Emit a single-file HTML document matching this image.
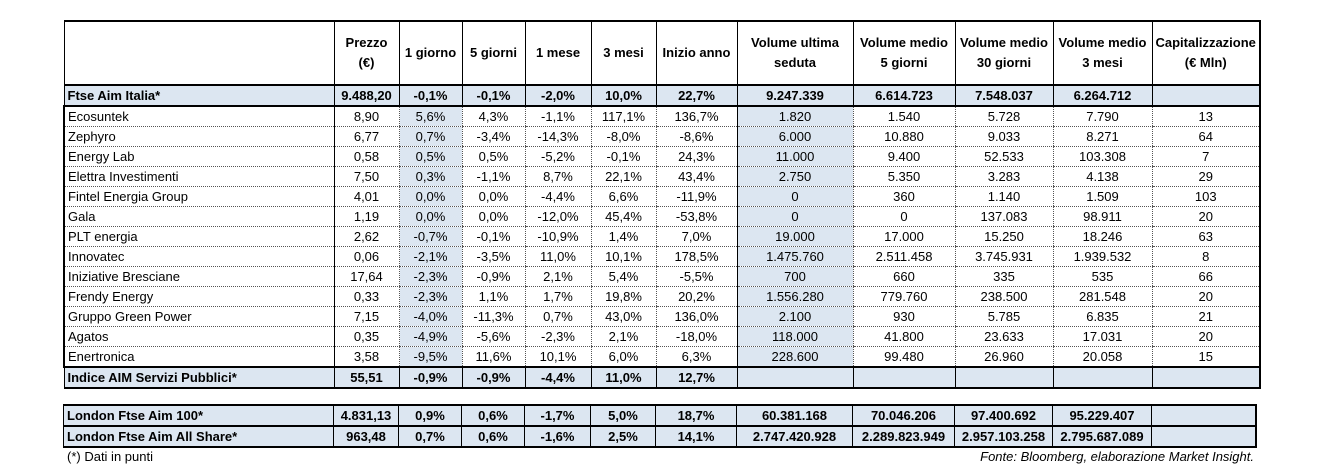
<!DOCTYPE html>
<html><head><meta charset="utf-8">
<style>
body{margin:0;width:1323px;height:469px;background:#fff;position:relative;overflow:hidden;font-family:"Liberation Sans",sans-serif;font-size:13px;color:#000}
table{position:absolute;left:63px;border-collapse:collapse;table-layout:fixed}
td{padding:0 3px;height:19px;text-align:center;white-space:nowrap;overflow:hidden;border-left:1px dotted #555;border-bottom:1px dotted #555}
td.n{text-align:left}
td.s{border-left:1px solid #000}
td.hl{background:#dce6f1}
tr.b td{background:#dce6f1;font-weight:bold;border-left:1px solid #000;border-top:2px solid #000;border-bottom:2px solid #000}
tr.h td{font-weight:bold;height:62px;border-left:1px solid #000;border-top:2px solid #000;border-bottom:2px solid #000;line-height:20px}
td:first-child{border-left:2px solid #000}
td:last-child{border-right:2px solid #000}
.note{position:absolute;top:449px;font-size:13px}
</style></head><body>
<table id="t1" style="top:20px"></table>
<table id="t2" style="top:404px"></table>
<div class="note" style="left:67px">(*) Dati in punti</div>
<div class="note" style="right:69px;font-style:italic">Fonte: Bloomberg, elaborazione Market Insight.</div>
<script>
const widths=[270,65,63,63,66,65,81,116,102,98,99,104];
const headers=["","Prezzo<br>(€)","1 giorno","5 giorni","1 mese","3 mesi","Inizio anno","Volume ultima<br>seduta","Volume medio<br>5 giorni","Volume medio<br>30 giorni","Volume medio<br>3 mesi","Capitalizzazione<br>(€ Mln)"];
const rows=[
["b","Ftse Aim Italia*","9.488,20","-0,1%","-0,1%","-2,0%","10,0%","22,7%","9.247.339","6.614.723","7.548.037","6.264.712",""],
["d","Ecosuntek","8,90","5,6%","4,3%","-1,1%","117,1%","136,7%","1.820","1.540","5.728","7.790","13"],
["d","Zephyro","6,77","0,7%","-3,4%","-14,3%","-8,0%","-8,6%","6.000","10.880","9.033","8.271","64"],
["d","Energy Lab","0,58","0,5%","0,5%","-5,2%","-0,1%","24,3%","11.000","9.400","52.533","103.308","7"],
["d","Elettra Investimenti","7,50","0,3%","-1,1%","8,7%","22,1%","43,4%","2.750","5.350","3.283","4.138","29"],
["d","Fintel Energia Group","4,01","0,0%","0,0%","-4,4%","6,6%","-11,9%","0","360","1.140","1.509","103"],
["d","Gala","1,19","0,0%","0,0%","-12,0%","45,4%","-53,8%","0","0","137.083","98.911","20"],
["d","PLT energia","2,62","-0,7%","-0,1%","-10,9%","1,4%","7,0%","19.000","17.000","15.250","18.246","63"],
["d","Innovatec","0,06","-2,1%","-3,5%","11,0%","10,1%","178,5%","1.475.760","2.511.458","3.745.931","1.939.532","8"],
["d","Iniziative Bresciane","17,64","-2,3%","-0,9%","2,1%","5,4%","-5,5%","700","660","335","535","66"],
["d","Frendy Energy","0,33","-2,3%","1,1%","1,7%","19,8%","20,2%","1.556.280","779.760","238.500","281.548","20"],
["d","Gruppo Green Power","7,15","-4,0%","-11,3%","0,7%","43,0%","136,0%","2.100","930","5.785","6.835","21"],
["d","Agatos","0,35","-4,9%","-5,6%","-2,3%","2,1%","-18,0%","118.000","41.800","23.633","17.031","20"],
["d","Enertronica","3,58","-9,5%","11,6%","10,1%","6,0%","6,3%","228.600","99.480","26.960","20.058","15"],
["b","Indice AIM Servizi Pubblici*","55,51","-0,9%","-0,9%","-4,4%","11,0%","12,7%","","","","",""]
];
const london=[
["b","London Ftse Aim 100*","4.831,13","0,9%","0,6%","-1,7%","5,0%","18,7%","60.381.168","70.046.206","97.400.692","95.229.407",""],
["b","London Ftse Aim All Share*","963,48","0,7%","0,6%","-1,6%","2,5%","14,1%","2.747.420.928","2.289.823.949","2.957.103.258","2.795.687.089",""]
];
function colgroup(t){const cg=document.createElement('colgroup');widths.forEach(w=>{const c=document.createElement('col');c.style.width=w+'px';cg.appendChild(c);});t.appendChild(cg);}
function addRow(t,r){
  const tr=document.createElement('tr');
  
  
  if(r[0]==='b')tr.className='b';
  r.slice(1).forEach((v,i)=>{
    const td=document.createElement('td');
    
    
    td.textContent=v===''?'\u00a0':v;
    if(i===0)td.className='n';
    if(r[0]==='d'){
      if(i===1||i===7)td.classList.add('s');
      if(i===2||i===7)td.classList.add('hl');
    }
    tr.appendChild(td);
  });
  t.appendChild(tr);
}
const t1=document.getElementById('t1'),t2=document.getElementById('t2');
colgroup(t1);colgroup(t2);
const hr=document.createElement('tr');hr.className='h';


headers.forEach(h=>{const td=document.createElement('td');


td.innerHTML=h||'&nbsp;';hr.appendChild(td);});
t1.appendChild(hr);
rows.forEach(r=>addRow(t1,r));
london.forEach(r=>addRow(t2,r));
</script>
</body></html>
